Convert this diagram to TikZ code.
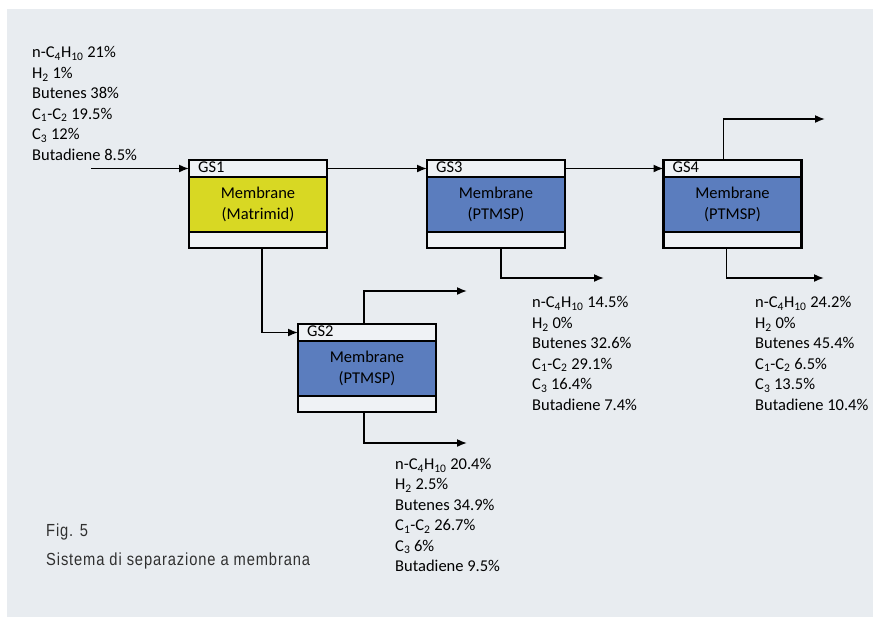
\documentclass[tikz,border=0pt]{standalone}
\usepackage{fontspec}
\setmainfont{Carlito}
\newfontfamily\capfont[FakeStretch=0.84,LetterSpace=5.0]{Liberation Sans}
\usetikzlibrary{arrows.meta}
\definecolor{bgpanel}{HTML}{E8ECF0}
\definecolor{memyellow}{HTML}{D8D823}
\definecolor{memblue}{HTML}{5B7DBE}
\definecolor{bandfill}{HTML}{EFF2F5}
\definecolor{captext}{HTML}{303030}
\newcommand{\sbs}[1]{\textsubscript{#1}}
\begin{document}
\begin{tikzpicture}[x=1pt,y=-1pt,
  band/.style={draw,line width=2.6pt,fill=bandfill,minimum width=138pt,inner sep=0,outer sep=0},
  hdr/.style={band,minimum height=17pt},
  btm/.style={band,minimum height=16pt,anchor=north},
  mem/.style={draw,line width=2.6pt,minimum width=138pt,minimum height=55pt,inner sep=0,outer sep=0,anchor=north,align=center,font=\fontsize{16.5}{20.5}\selectfont},
  gslabel/.style={anchor=base west,inner sep=0,font=\fontsize{16.5}{18}\selectfont},
  flow/.style={line width=1.6pt,-{Latex[length=10pt,width=8pt]}},
  comp/.style={anchor=north west,inner sep=0,align=left,font=\fontsize{16.5}{20.45}\selectfont},
  caption/.style={anchor=base west,inner sep=0,text=captext,font=\capfont\fontsize{17.5}{20}\selectfont}
]
\useasboundingbox (0,0) rectangle (873,616);
\fill[bgpanel] (7,9) rectangle (885,630);

% GS1
\node[hdr] (gs1h) at (258,168.5) {};
\node[mem,fill=memyellow,anchor=north] (gs1m) at (gs1h.south) {Membrane\\(Matrimid)};
\node[btm] (gs1b) at (gs1m.south) {};
\node[gslabel] (gs1l) at ([xshift=9pt,yshift=-4pt]gs1h.west) {GS1};

% GS3
\node[hdr] (gs3h) at (496,168.5) {};
\node[mem,fill=memblue,anchor=north] (gs3m) at (gs3h.south) {Membrane\\(PTMSP)};
\node[btm] (gs3b) at (gs3m.south) {};
\node[gslabel] (gs3l) at ([xshift=9pt,yshift=-4pt]gs3h.west) {GS3};

% GS4
\node[hdr] (gs4h) at (732.5,168.5) {};
\node[mem,fill=memblue,anchor=north] (gs4m) at (gs4h.south) {Membrane\\(PTMSP)};
\node[btm] (gs4b) at (gs4m.south) {};
\node[gslabel] (gs4l) at ([xshift=9pt,yshift=-4pt]gs4h.west) {GS4};

% GS2
\node[hdr] (gs2h) at (367,332.5) {};
\node[mem,fill=memblue,anchor=north] (gs2m) at (gs2h.south) {Membrane\\(PTMSP)};
\node[btm] (gs2b) at (gs2m.south) {};
\node[gslabel] (gs2l) at ([xshift=9pt,yshift=-4pt]gs2h.west) {GS2};

% free ends
\coordinate (feed) at (91,168.5);
\coordinate (o2top) at (467,291);
\coordinate (o2bot) at (467,443);
\coordinate (o3bot) at (604,278);
\coordinate (o4top) at (825,119);
\coordinate (o4bot) at (824,278);

% connectors
\draw[flow] (feed) -- (gs1h.west);
\draw[flow] (gs1h.east) -- (gs3h.west);
\draw[flow] (gs3h.east) -- (gs4h.west);
\draw[flow] ([xshift=4pt]gs1b.south) |- (gs2h.west);
\draw[flow] ([xshift=-3pt]gs2h.north) |- (o2top);
\draw[flow] ([xshift=-3pt]gs2b.south) |- (o2bot);
\draw[flow] ([xshift=5pt]gs3b.south) |- (o3bot);
\draw[flow] ([xshift=-9pt]gs4h.north) |- (o4top);
\draw[flow] ([xshift=-6pt]gs4b.south) |- (o4bot);

% compositions
\node[comp] (feedtxt) at (32,46.5) {n-C\sbs{4}H\sbs{10} 21\%\\H\sbs{2} 1\%\\Butenes 38\%\\C\sbs{1}-C\sbs{2} 19.5\%\\C\sbs{3} 12\%\\Butadiene 8.5\%};
\node[comp] (gs3txt) at (532,296.5) {n-C\sbs{4}H\sbs{10} 14.5\%\\H\sbs{2} 0\%\\Butenes 32.6\%\\C\sbs{1}-C\sbs{2} 29.1\%\\C\sbs{3} 16.4\%\\Butadiene 7.4\%};
\node[comp] (gs4txt) at (755,296.5) {n-C\sbs{4}H\sbs{10} 24.2\%\\H\sbs{2} 0\%\\Butenes 45.4\%\\C\sbs{1}-C\sbs{2} 6.5\%\\C\sbs{3} 13.5\%\\Butadiene 10.4\%};
\node[comp] (gs2txt) at (395,458) {n-C\sbs{4}H\sbs{10} 20.4\%\\H\sbs{2} 2.5\%\\Butenes 34.9\%\\C\sbs{1}-C\sbs{2} 26.7\%\\C\sbs{3} 6\%\\Butadiene 9.5\%};

% caption
\node[caption] (fig) at (46,536) {Fig. 5};
\node[caption] (figtitle) at (46,565) {Sistema di separazione a membrana};
\end{tikzpicture}
\end{document}
